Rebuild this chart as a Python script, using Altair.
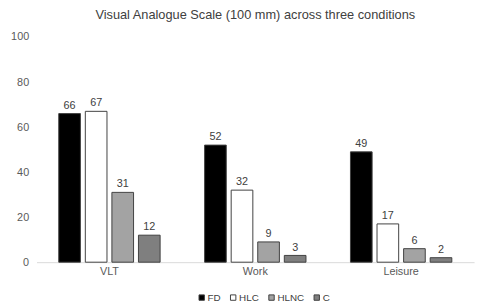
import altair as alt
import pandas as pd

categories = ["VLT", "Work", "Leisure"]
conditions = ["FD", "HLC", "HLNC", "C"]
FD = [66, 52, 49]
HLC = [67, 32, 17]
HLNC = [31, 9, 6]
C = [12, 3, 2]
y_ticks = [0, 20, 40, 60, 80, 100]

series = {"FD": FD, "HLC": HLC, "HLNC": HLNC, "C": C}
rows = []
for cond in conditions:
    for cat, v in zip(categories, series[cond]):
        rows.append({"cat": cat, "cond": cond, "val": v})
df = pd.DataFrame(rows)

FONT = "Liberation Sans"
GREY = "#595959"

base = alt.Chart(df).encode(
    x=alt.X("cat:N", sort=categories,
            scale=alt.Scale(paddingInner=0.305, paddingOuter=0.1525),
            axis=alt.Axis(title=None, labelAngle=0, ticks=False, domainColor="#d9d9d9",
                          labelFontSize=11, labelColor=GREY, labelPadding=4, labelFont=FONT)),
    xOffset=alt.XOffset("cond:N", sort=conditions,
                        scale=alt.Scale(paddingInner=0.185, paddingOuter=0)),
    y=alt.Y("val:Q", scale=alt.Scale(domain=[0, 100]),
            axis=alt.Axis(title=None, values=y_ticks, domain=False, ticks=False, grid=False,
                          labelFontSize=11, labelColor=GREY, labelPadding=8, labelFont=FONT)),
)

bars = base.mark_bar(stroke="#404040", strokeWidth=1).encode(
    color=alt.Color("cond:N", sort=conditions,
                    scale=alt.Scale(domain=conditions, range=["#000000", "#ffffff", "#a3a3a3", "#7f7f7f"]),
                    legend=alt.Legend(title=None, orient="none", direction="horizontal",
                                      legendX=163, legendY=260, symbolType="square", symbolSize=30,
                                      symbolStrokeColor="#404040", symbolStrokeWidth=1,
                                      labelFontSize=10, labelColor="#404040", labelFont=FONT,
                                      labelOffset=1, columnPadding=7))
)

text = base.mark_text(dy=-8, fontSize=11, color="#404040", font=FONT).encode(text="val:Q")

chart = alt.layer(bars, text).properties(
    width=445, height=229,
    title=alt.TitleParams("Visual Analogue Scale (100 mm) across three conditions",
                          fontSize=13, fontWeight="normal", color="#404040", font=FONT, offset=9),
    autosize=alt.AutoSizeParams(type="none"),
    padding={"left": 29, "top": 27, "right": 4, "bottom": 40},
).configure_view(stroke=None).configure_axis(labelColor=GREY)

chart.save("out.html", embed_options={"renderer": "svg", "actions": False})
